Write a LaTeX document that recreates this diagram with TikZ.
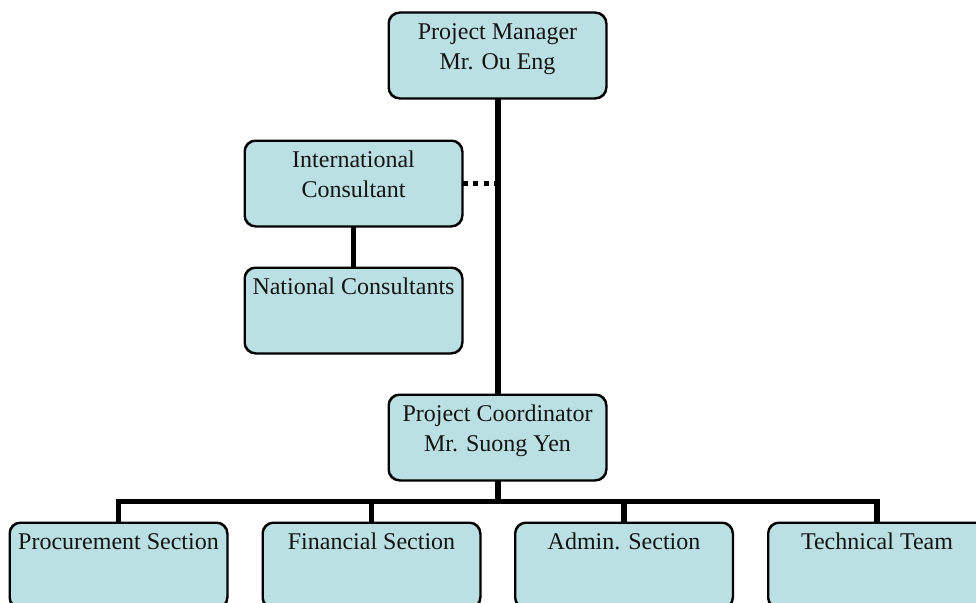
\documentclass[tikz,border=0pt]{standalone}
\usepackage{fontspec}
\setmainfont{Liberation Serif}
\definecolor{boxfill}{RGB}{187,224,227}
\definecolor{boxtext}{RGB}{20,20,20}
\begin{document}
\begin{tikzpicture}[x=1pt,y=-1pt,
  orgbox/.style={draw=black, line width=1.5pt, fill=boxfill, rounded corners=11pt,
    minimum width=217pt, minimum height=85pt, inner sep=0pt},
  boxlabel/.style={anchor=base, inner sep=0pt, align=center, text=boxtext,
    font=\fontsize{24}{30}\selectfont},
  link/.style={line width=5.5pt},
  dotlink/.style={line width=5pt, dash pattern=on 5pt off 5.5pt}
]
\useasboundingbox (0,0) rectangle (976,602);
\clip (0,0) rectangle (976,602);

% boxes
\node[orgbox] (pm) at (497.5,55.5) {};
\node[orgbox] (ic) at (353.5,183.5) {};
\node[orgbox] (nc) at (353.5,310.5) {};
\node[orgbox] (pc) at (497.5,437.5) {};
\node[orgbox] (proc) at (118.5,565.5) {};
\node[orgbox] (fin) at (371.5,565.5) {};
\node[orgbox] (adm) at (624,565.5) {};
\node[orgbox] (tech) at (877,565.5) {};

% labels (base anchor = baseline of the last line)
\node[boxlabel] (pmt) at ([yshift=-57pt]pm.north) {Project Manager\\Mr. Ou Eng};
\node[boxlabel] (ict) at ([yshift=-57pt]ic.north) {International\\Consultant};
\node[boxlabel] (nct) at ([yshift=-27pt]nc.north) {National Consultants};
\node[boxlabel] (pct) at ([yshift=-57pt]pc.north) {Project Coordinator\\Mr. Suong Yen};
\node[boxlabel] (proct) at ([yshift=-27pt]proc.north) {Procurement Section};
\node[boxlabel] (fint) at ([yshift=-27pt]fin.north) {Financial Section};
\node[boxlabel] (admt) at ([yshift=-27pt]adm.north) {Admin. Section};
\node[boxlabel] (techt) at ([yshift=-27pt]tech.north) {Technical Team};

% junction coordinates
\coordinate (mainic) at (pm.south |- ic.east);
\coordinate (bus) at (501.5,501.5);
\coordinate (busl) at (proc.north |- bus);
\coordinate (busr) at (tech.north |- bus);

% connectors
\draw[link] ([xshift=0.5pt]pm.south) -- ([xshift=0.5pt]pc.north);
\draw[link] (ic.south) -- (nc.north);
\draw[dotlink] (ic.east) -- ([xshift=0.5pt]mainic);
\draw[link] ([xshift=0.5pt]pc.south) -- ([xshift=0.5pt]pc.south |- bus);
\draw[link, line cap=rect] (busl) -- (busr);
\draw[link] (busl) -- (proc.north);
\draw[link] (fin.north |- bus) -- (fin.north);
\draw[link] (adm.north |- bus) -- (adm.north);
\draw[link] (busr) -- (tech.north);

% redraw box outlines over connector ends
\foreach \b in {pm,ic,nc,pc,proc,fin,adm,tech}
  \draw[line width=1.5pt, rounded corners=11pt] (\b.north west) rectangle (\b.south east);
\end{tikzpicture}
\end{document}
